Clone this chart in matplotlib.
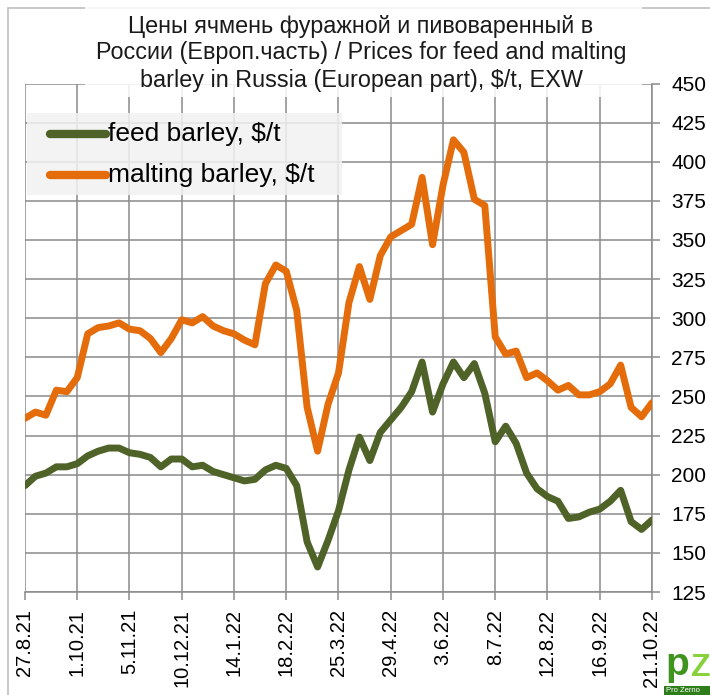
import matplotlib
matplotlib.use("Agg")
import matplotlib.pyplot as plt
from matplotlib.patches import Rectangle
from matplotlib.lines import Line2D
import pandas as pd

plt.rcParams['font.family'] = ['Liberation Sans', 'DejaVu Sans']

title_lines = ["Цены ячмень фуражной и пивоваренный в",
               "России (Европ.часть) / Prices for feed and malting",
               "barley in Russia (European part), $/t, EXW"]

start_date = "2021-08-27"
n_weeks = 61

feed = [193, 199, 201, 205, 205, 207, 212, 215, 217, 217,
        214, 213, 211, 205, 210, 210, 205, 206, 202, 200,
        198, 196, 197, 203, 206, 204, 193, 157, 141, 158,
        177, 203, 224, 209, 227, 235, 243, 253, 272, 240,
        258, 272, 262, 271, 252, 221, 231, 220, 201, 191,
        186, 183, 172, 173, 176, 178, 183, 190, 170, 165, 171]

malting = [236, 240, 238, 254, 253, 262, 290, 294, 295, 297,
           293, 292, 287, 278, 287, 299, 297, 301, 295, 292,
           290, 286, 283, 322, 334, 330, 305, 243, 215, 245,
           265, 310, 333, 312, 340, 352, 356, 360, 390, 347,
           385, 414, 406, 376, 372, 288, 277, 279, 262, 265,
           260, 254, 257, 251, 251, 253, 258, 270, 243, 237, 246]

tick_labels = ["27.8.21", "1.10.21", "5.11.21", "10.12.21", "14.1.22", "18.2.22",
               "25.3.22", "29.4.22", "3.6.22", "8.7.22", "12.8.22", "16.9.22", "21.10.22"]

y_ticks = [125, 150, 175, 200, 225, 250, 275, 300, 325, 350, 375, 400, 425, 450]

series_names = ["feed barley, $/t", "malting barley, $/t"]
colors = ["#4f6228", "#e46c0a"]

dates = pd.date_range(start_date, periods=n_weeks, freq="7D")
tick_dates = dates[::5]

W, H = 710, 695
fig = plt.figure(figsize=(W / 100, H / 100), dpi=100)
fig.patch.set_facecolor("white")

ax = fig.add_axes([25 / W, 1 - 592 / H, (652 - 25) / W, (592 - 83.5) / H])
grid_c = "#8a8a8a"

for vals, c in zip([feed, malting], colors):
    ax.plot(dates, vals, color=c, lw=5, solid_joinstyle="round",
            solid_capstyle="round", zorder=3)

ax.set_xlim(dates[0], dates[-1])
ax.set_ylim(125, 450)
ax.set_yticks(y_ticks)
ax.yaxis.tick_right()
ax.set_xticks(tick_dates)
ax.set_xticklabels(tick_labels, rotation=90, va="top", ha="center")
ax.grid(True, color=grid_c, lw=1.1, zorder=1)
for s in ["top", "left"]:
    ax.spines[s].set_visible(False)
for s in ["right", "bottom"]:
    ax.spines[s].set_color(grid_c)
    ax.spines[s].set_linewidth(1.1)
ax.tick_params(axis="y", which="both", length=6, width=1.1, color=grid_c,
               labelsize=15, pad=8, left=False, right=True)
ax.tick_params(axis="x", length=6, width=1.1, color=grid_c, labelsize=14.5, pad=6)

# title box (semi-transparent) and title
fig.patches.append(Rectangle((85 / W, 1 - 97 / H), (642 - 85) / W, 97 / H,
                             transform=fig.transFigure, facecolor="white",
                             alpha=0.85, edgecolor="none", zorder=5))
for line, base in zip(title_lines, [32.7, 59.5, 87.0]):
    fig.text(361 / W, 1 - base / H, line, ha="center", va="baseline",
             fontsize=16.8, color="#1a1a1a", zorder=6)

# legend box
fig.patches.append(Rectangle((27 / W, 1 - 195 / H), (342 - 27) / W, (195 - 113) / H,
                             transform=fig.transFigure, facecolor="#f2f2f2",
                             alpha=0.85, edgecolor="none", zorder=5))
for i, (name, c) in enumerate(zip(series_names, colors)):
    yy = 1 - (134 + 41 * i) / H
    fig.add_artist(Line2D([50 / W, 106 / W], [yy, yy], transform=fig.transFigure,
                          color=c, lw=6, solid_capstyle="round", zorder=6))
    fig.text(108 / W, yy, name, ha="left", va="center", fontsize=19,
             color="black", zorder=6)

# chart area border
fig.patches.append(Rectangle((8 / W, -0.05), 1.1, 1 - 8 / H + 0.05,
                             transform=fig.transFigure, facecolor="none",
                             edgecolor="#bfbfbf", lw=1.2, zorder=0))

# logo
fig.patches.append(Rectangle((664 / W, 0), 60 / W, 9 / H, transform=fig.transFigure,
                             facecolor="#2f7d1a", edgecolor="none", zorder=7))
fig.text(666 / W, 1 / H, "Pro Zerno", fontsize=5.5, color="white", ha="left",
         va="bottom", zorder=8)
fig.text(665 / W, 12 / H, "p", fontsize=28, fontweight="bold", color="#3f9420",
         ha="left", va="bottom", zorder=7)
fig.text(690.5 / W, 12 / H, "Z", fontsize=23, fontweight="bold", color="#86d13c",
         ha="left", va="bottom", zorder=7)

fig.savefig("out.png", dpi=100, facecolor="white")
